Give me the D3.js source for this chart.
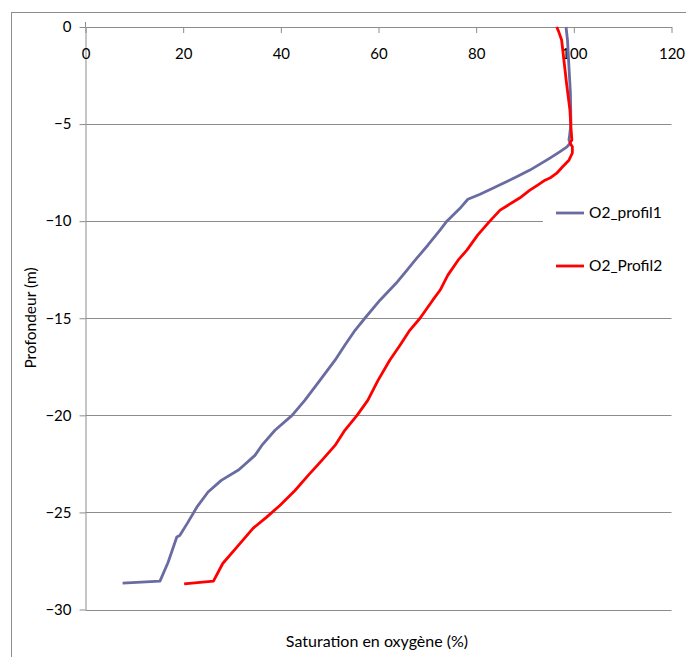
<!DOCTYPE html>
<html>
<head>
<meta charset="utf-8">
<script src="https://cdn.jsdelivr.net/npm/d3@7"></script>
<style>
  html, body { margin: 0; padding: 0; background: #fff; }
  svg { display: block; }
  text { font-family: Lato, "Open Sans", sans-serif; fill: #000; }
</style>
</head>
<body>
<svg id="chart" width="686" height="657"></svg>
<script>
// ---- Data ----
const xTicks = [0, 20, 40, 60, 80, 100, 120];
const yTicks = [0, -5, -10, -15, -20, -25, -30];
const seriesNames = ["O2_profil1", "O2_Profil2"];

// O2_profil1: saturation (%) and depth (m)
const profil1Sat = [98.4, 98.7, 99.0, 99.3, 99.4, 99.2, 99.0, 99.3, 98.6, 97.1, 95.1, 93.4, 91.0, 88.9, 86.2, 83.4, 80.8, 78.3, 76.9, 74.0, 72.6, 70.1, 67.5, 65.8, 63.6, 60.3, 57.2, 55.2, 53.1, 51.1, 48.0, 44.9, 42.3, 38.8, 36.1, 34.7, 31.4, 27.8, 25.1, 22.8, 21.0, 19.3, 18.7, 16.9, 15.25, 7.6];
const profil1Depth = [0, -0.67, -2.05, -3.40, -4.95, -5.46, -5.82, -5.98, -6.17, -6.43, -6.75, -7.01, -7.37, -7.63, -7.97, -8.30, -8.61, -8.87, -9.28, -10.0, -10.46, -11.24, -12.01, -12.53, -13.20, -14.07, -15.0, -15.62, -16.39, -17.16, -18.20, -19.23, -20.0, -20.77, -21.55, -22.06, -22.80, -23.35, -23.95, -24.73, -25.5, -26.19, -26.27, -27.58, -28.54, -28.64];

// O2_Profil2
const profil2Sat = [96.5, 96.9, 97.5, 98.5, 99.2, 99.4, 99.6, 99.2, 99.7, 99.7, 99.0, 97.7, 96.5, 95.1, 94.1, 92.6, 91.0, 88.9, 84.9, 82.8, 80.3, 78.1, 76.3, 74.2, 72.6, 71.1, 68.5, 66.4, 64.4, 62.3, 59.9, 57.8, 55.6, 53.1, 51.1, 48.4, 45.6, 42.9, 39.8, 37.1, 34.3, 31.0, 28.1, 26.2, 20.2];
const profil2Depth = [0, -0.24, -0.67, -2.89, -4.28, -5.14, -5.82, -5.98, -6.17, -6.49, -6.86, -7.20, -7.53, -7.78, -7.89, -8.14, -8.40, -8.81, -9.43, -10.0, -10.72, -11.49, -12.01, -12.78, -13.56, -14.07, -15.0, -15.62, -16.39, -17.16, -18.20, -19.23, -20.0, -20.77, -21.55, -22.32, -23.09, -23.87, -24.64, -25.24, -25.82, -26.79, -27.63, -28.54, -28.68];

const colors = ["#6a6ba0", "#ff0000"];

// ---- Layout ----
const svg = d3.select("#chart");
const gridColor = "#8c8c8c";
const plot = { left: 85.5, right: 671.5, top: 27, bottom: 609.5 };

const x = d3.scaleLinear().domain([0, 120]).range([plot.left, plot.right]);
const y = d3.scaleLinear().domain([-30, 0]).range([plot.bottom, plot.top]);

// outer chart border
svg.append("rect")
  .attr("x", 11.5).attr("y", 12.5)
  .attr("width", 700).attr("height", 700)
  .attr("fill", "#fff").attr("stroke", gridColor).attr("stroke-width", 1);

// gridlines
svg.append("g").selectAll("line")
  .data(yTicks.filter(d => d !== 0))
  .join("line")
  .attr("x1", plot.left).attr("x2", plot.right)
  .attr("y1", d => Math.round(y(d)) + 0.5).attr("y2", d => Math.round(y(d)) + 0.5)
  .attr("stroke", gridColor).attr("stroke-width", 1);

// y axis
const yAxis = svg.append("g")
  .attr("transform", `translate(${plot.left},0)`)
  .call(d3.axisLeft(y).tickValues(yTicks).tickSize(6).tickPadding(8).tickSizeOuter(0));
yAxis.select(".domain").attr("stroke", gridColor);
yAxis.selectAll(".tick line").attr("stroke", gridColor);
yAxis.selectAll("text").style("font-size", "15px").attr("font-family", "Lato");

// small stub of y axis above the x axis
svg.append("line").attr("x1", plot.left).attr("x2", plot.left)
  .attr("y1", plot.top - 5).attr("y2", plot.top).attr("stroke", gridColor);

// x axis (at depth 0, top)
const xAxis = svg.append("g")
  .attr("transform", `translate(0,${y(0)})`)
  .call(d3.axisBottom(x).tickValues(xTicks).tickSize(6).tickSizeOuter(0));
xAxis.select(".domain").attr("stroke", gridColor);
xAxis.selectAll(".tick line").attr("stroke", gridColor);
xAxis.selectAll("text").style("font-size", "15px")
  .attr("y", 27).attr("dy", "0.35em");

// lines
const line = d3.line().x(d => x(d[0])).y(d => y(d[1]));
const series = [
  d3.zip(profil1Sat, profil1Depth),
  d3.zip(profil2Sat, profil2Depth)
];
svg.append("g").selectAll("path")
  .data(series)
  .join("path")
  .attr("d", line)
  .attr("fill", "none")
  .attr("stroke", (d, i) => colors[i])
  .attr("stroke-width", 2.8)
  .attr("stroke-linejoin", "round");

// legend
const legend = svg.append("g");
legend.append("rect").attr("x", 543).attr("y", 195).attr("width", 143).attr("height", 95).attr("fill", "#fff");
const legY = [213, 266];
seriesNames.forEach((name, i) => {
  legend.append("line")
    .attr("x1", 556).attr("x2", 584)
    .attr("y1", legY[i]).attr("y2", legY[i])
    .attr("stroke", colors[i]).attr("stroke-width", 2.8);
  legend.append("text")
    .attr("x", 589).attr("y", legY[i]).attr("dy", "0.35em")
    .style("font-size", "15.5px").text(name);
});

// axis titles
svg.append("text")
  .attr("x", 377).attr("y", 641).attr("dy", "0.35em")
  .attr("text-anchor", "middle").style("font-size", "16px")
  .text("Saturation en oxygène (%)");
svg.append("text")
  .attr("transform", `translate(31,318) rotate(-90)`)
  .attr("dy", "0.35em")
  .attr("text-anchor", "middle").style("font-size", "15.5px")
  .text("Profondeur (m)");
</script>
</body>
</html>
